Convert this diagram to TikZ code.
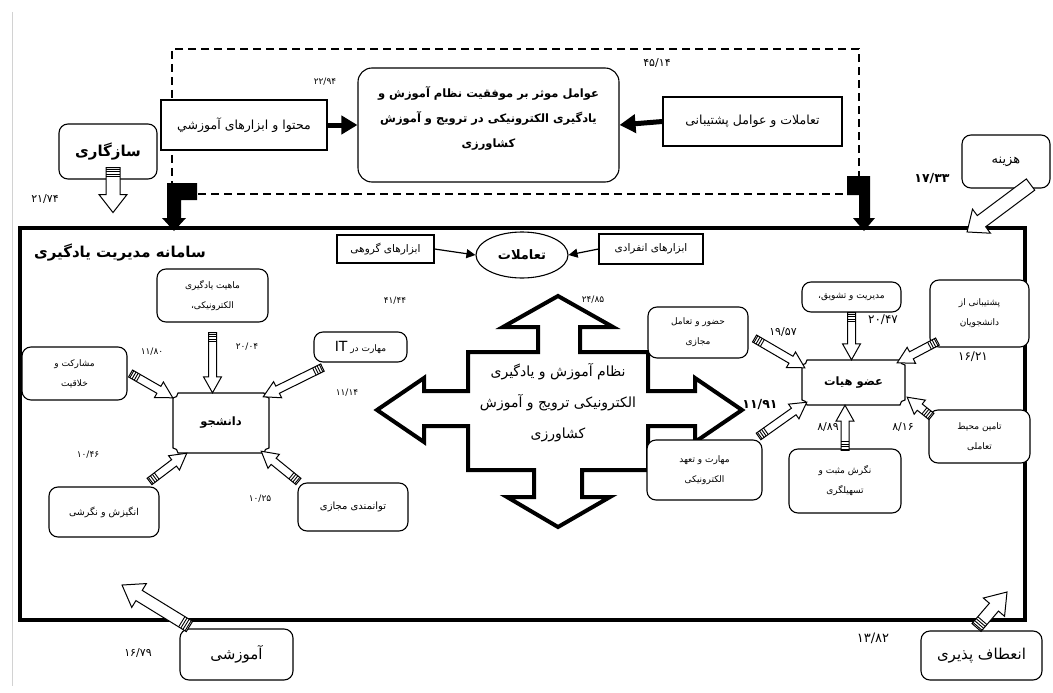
\documentclass[tikz,border=0pt]{standalone}
\usepackage{fontspec}
\usetikzlibrary{arrows.meta,shapes.geometric,calc}
\TeXXeTstate=1
\newfontfamily\fa[Script=Arabic]{DejaVu Sans}
\newcommand\R[1]{\beginR #1\endR}
\newcommand\fsz[2]{\fontsize{#1}{#2}\selectfont}
% hollow block arrow: #1 from, #2 to, #3 half shaft, #4 half head, #5 head length, #6 stripes (0/1)
\newcommand\hollowarrow[6]{%
  \path let \p1=#1, \p2=#2, \n1={atan2(\y2-\y1,\x2-\x1)}, \n2={veclen(\x2-\x1,\y2-\y1)} in
    \pgfextra{\pgfmathsetmacro\tmpA{\n1}\global\let\HAang\tmpA
              \pgfmathsetmacro\tmpB{\n2}\global\let\HAlen\tmpB
              \xdef\HAx{\x1}\xdef\HAy{\y1}};
  \begin{scope}[shift={(\HAx,\HAy)},rotate=\HAang,x=1pt,y=1pt]
    \draw[harrow] (0,-#3) -- ({\HAlen-#5},-#3) -- ({\HAlen-#5},-#4) -- (\HAlen,0)
      -- ({\HAlen-#5},#4) -- ({\HAlen-#5},#3) -- (0,#3) -- cycle;
    \ifnum#6>0
      \foreach \hh in {1.5,4,6.5,9}{\draw[line width=0.9pt] (\hh,-#3) -- (\hh,#3);}
    \fi
  \end{scope}}
% box with concave corners around a named node: #1 name, #2 half width, #3 half height
\newcommand\notchbox[3]{%
  \begin{scope}[shift={(#1.center)},x=1pt,y=1pt]
    \draw[line width=1.1pt] ({-#2+5},#3) -- ({#2-5},#3) arc[start angle=180,end angle=270,radius=5]
      -- (#2,{-#3+5}) arc[start angle=90,end angle=180,radius=5]
      -- ({-#2+5},-#3) arc[start angle=0,end angle=90,radius=5]
      -- (-#2,{#3-5}) arc[start angle=270,end angle=360,radius=5] -- cycle;
  \end{scope}}
\begin{document}
\begin{tikzpicture}[x=1pt,y=-1pt,
  box/.style={draw, line width=1.1pt, fill=white, inner sep=0pt, align=center},
  rbox/.style={box, rounded corners=9pt},
  harrow/.style={draw, fill=white, line width=1pt, line join=miter},
  thickarr/.style={line width=5pt, -{Triangle[length=16pt,width=18pt]}},
  thinarr/.style={line width=1.2pt, -{Triangle[length=9pt,width=9pt]}},
  num/.style={font=\fa\fsz{9}{11}, inner sep=0pt},
  numM/.style={font=\fa\fsz{11}{13}, inner sep=0pt},
  numB/.style={font=\fa\bfseries\fsz{12.5}{14}, inner sep=0pt},
  small/.style={font=\fa\fsz{9}{20}},
  plain/.style={inner sep=0pt, align=center}]
\useasboundingbox (0,0) rectangle (1053,693);
% scan margin line
\draw[gray!35, line width=1pt] (12,12) -- (12,686);

% main system frame
\node[draw, line width=3.5pt, minimum width=1005, minimum height=392, inner sep=0pt] (sys) at (522.5,424) {};

% dashed frame
\node[draw, dash pattern=on 8pt off 5pt, line width=1.3pt, minimum width=687, minimum height=145, inner sep=0pt] (dbox) at (515.5,121.5) {};

% L-shaped black arrows from dashed frame to system frame
\fill (167,183) -- (197,183) -- (197,200) -- (181,200) -- (181,218) -- (186,218) -- (174,231)
  -- (162,218) -- (167,218) -- cycle;
\fill (847,176) -- (870,176) -- (870,218) -- (875,218) -- (864,231) -- (853,218) -- (859,218)
  -- (859,195) -- (847,195) -- cycle;

% top row
\node[box, minimum width=166, minimum height=50, font=\fa\fsz{12.5}{15}] (moht) at (244,125)
  {\R{محتوا و ابزارهای آموزشي}};
\node[rbox, rounded corners=14pt, minimum width=261, minimum height=114] (goal) at (488.5,125) {};
\node[plain, font=\fa\bfseries\fsz{11.5}{25}] (goaltxt) at (488.5,118)
  {\R{عوامل موثر بر موفقیت نظام آموزش و}\\\R{یادگیری الکترونیکی در ترویج و آموزش}\\\R{کشاورزی}};
\node[box, minimum width=179, minimum height=49, font=\fa\fsz{12.5}{15}] (taam) at (752.5,121.5)
  {\R{تعاملات و عوامل پشتیبانی}};
\draw[thickarr] (moht.east) -- (goal.west);
\draw[thickarr] (taam.west) -- (goal.east);
\node[num] (n1) at (325,82) {۲۲/۹۴};
\node[numM] (n2) at (657,63) {۴۵/۱۴};

\node[rbox, minimum width=98, minimum height=55, font=\fa\bfseries\fsz{15}{17}] (saz) at (108,151.5) {\R{سازگاری}};
\node[numM] (n3) at (45,199) {۲۱/۷۴};
\hollowarrow{($(saz.south)+(5,-12)$)}{($(saz.south)+(5,33)$)}{7}{14}{18}{1}

\node[rbox, minimum width=88, minimum height=53, font=\fa\fsz{13}{15}] (hazine) at (1006,161.5) {\R{هزینه}};
\hollowarrow{($(hazine.south east)+(-20,-4)$)}{(967,232)}{7}{15}{18}{0}
\node[numB] (n4) at (932,179) {۱۷/۳۳};

% inside system frame
\node[plain, font=\fa\bfseries\fsz{15}{18}] (title) at (120,253) {\R{سامانه مدیریت یادگیری}};
\node[box, minimum width=97, minimum height=28, font=\fa\fsz{10.5}{12}] (grp) at (385.5,249) {\R{ابزارهای گروهی}};
\node[ellipse, draw, line width=1.1pt, fill=white, minimum width=92, minimum height=46, inner sep=0pt,
  font=\fa\bfseries\fsz{13}{15}] (tam) at (522,255) {\R{تعاملات}};
\node[box, minimum width=104, minimum height=30, font=\fa\fsz{10.5}{12}] (ind) at (651,249) {\R{ابزارهای انفرادی}};
\draw[thinarr] (grp.east) -- (tam.west);
\draw[thinarr] (ind.west) -- (tam.east);
\node[num] (n5) at (395,301) {۴۱/۴۴};
\node[num] (n6) at (593,300) {۲۴/۸۵};

% central four-way arrow
\draw[line width=4pt, line join=miter, fill=white]
  (558,296) -- (613,327) -- (580,327) -- (580,352) -- (648,352) -- (648,391) -- (695,391)
  -- (695,378) -- (742,410) -- (695,442) -- (695,426) -- (648,426) -- (648,470) -- (582,470)
  -- (582,497) -- (610,497) -- (558,527) -- (507,497) -- (534,497) -- (534,470) -- (468,470)
  -- (468,426) -- (424,426) -- (424,442) -- (377,410) -- (424,378) -- (424,391) -- (468,391)
  -- (468,352) -- (538,352) -- (538,327) -- (503,327) -- cycle;
\node[plain, font=\fa\fsz{14}{31}] (cen) at (558,403)
  {\R{نظام آموزش و یادگیری}\\\R{الکترونیکی ترویج و آموزش}\\\R{کشاورزی}};
\node[numB] (n7) at (760,405) {۱۱/۹۱};

% student cluster
\node[rbox, minimum width=111, minimum height=53, small] (mah) at (212.5,295.5)
  {\R{ماهیت یادگیری}\\\R{الکترونیکی،}};
\node[plain, minimum width=96, minimum height=60, font=\fa\bfseries\fsz{11.5}{13}] (dan) at (221,423) {\R{دانشجو}};
\notchbox{dan}{48}{30}
\node[rbox, minimum width=105, minimum height=53, small] (mosh) at (74.5,373.5)
  {\R{مشارکت و}\\\R{خلاقیت}};
\node[rbox, minimum width=93, minimum height=30, font=\fa\fsz{9}{12}] (it) at (360.5,347)
  {\R{مهارت در \beginL{\fsz{14}{14}IT}\endL}};
\node[rbox, minimum width=110, minimum height=50, font=\fa\fsz{9.5}{12}] (ang) at (104,512) {\R{انگیزش و نگرشی}};
\node[rbox, minimum width=110, minimum height=48, font=\fa\fsz{10}{12}] (tav) at (353,507) {\R{توانمندی مجازی}};
\node[rbox, minimum width=113, minimum height=51, font=\fa\fsz{15}{17}] (amoz) at (236.5,654.5) {\R{آموزشی}};

\hollowarrow{($(mah.south)+(0,10)$)}{(mah.south |- dan.north)}{4}{9}{16}{1}
\hollowarrow{($(mosh.east)+(3,0)$)}{($(dan.north west)+(0,5)$)}{4}{9}{16}{1}
\hollowarrow{($(it.south west)+(9,5)$)}{($(dan.north east)+(-6,4)$)}{4}{9}{16}{1}
\hollowarrow{($(ang.north east)+(-10,-5)$)}{($(dan.south west)+(14,0)$)}{4}{9}{16}{1}
\hollowarrow{($(tav.north west)+(1,-1)$)}{($(dan.south east)+(-8,-2)$)}{4}{9}{16}{1}
\hollowarrow{($(amoz.north west)+(10,-2)$)}{(122,585)}{6}{14}{20}{1}

\node[num] (n8) at (247,347) {۲۰/۰۴};
\node[num] (n9) at (152,352) {۱۱/۸۰};
\node[num] (n10) at (347,393) {۱۱/۱۴};
\node[num] (n11) at (88,455) {۱۰/۴۶};
\node[num] (n12) at (260,499) {۱۰/۲۵};
\node[numM] (n13) at (138,653) {۱۶/۷۹};

% faculty cluster
\node[rbox, minimum width=100, minimum height=51, small] (hoz) at (698,332.5)
  {\R{حضور و تعامل}\\\R{مجازی}};
\node[rbox, minimum width=99, minimum height=30, font=\fa\fsz{9}{12}] (mod) at (851.5,297) {\R{مدیریت و تشویق،}};
\node[rbox, minimum width=99, minimum height=67, small] (posh) at (979.5,313.5)
  {\R{پشتیبانی از}\\\R{دانشجویان}};
\node[plain, minimum width=103, minimum height=45, font=\fa\bfseries\fsz{11.5}{13}] (ozv) at (853.5,382.5) {\R{عضو هیات}};
\notchbox{ozv}{51.5}{22.5}
\node[rbox, minimum width=115, minimum height=60, small] (mah2) at (704.5,470)
  {\R{مهارت و تعهد}\\\R{الکترونیکی}};
\node[rbox, minimum width=112, minimum height=64, small] (neg) at (845,481)
  {\R{نگرش مثبت و}\\\R{تسهیلگری}};
\node[rbox, minimum width=101, minimum height=53, small] (tam2) at (979.5,436.5)
  {\R{تامین محیط}\\\R{تعاملی}};
\node[rbox, minimum width=121, minimum height=49, font=\fa\fsz{15}{17}] (enet) at (981.5,655.5) {\R{انعطاف پذیری}};

\hollowarrow{($(hoz.east)+(6,6)$)}{($(ozv.north west)+(3,8)$)}{4}{9}{16}{1}
\hollowarrow{(mod.south)}{(mod.south |- ozv.north)}{4}{9}{16}{1}
\hollowarrow{($(posh.south west)+(8,-6)$)}{($(ozv.north east)+(-8,3)$)}{4}{9}{16}{1}
\hollowarrow{($(mah2.north east)+(-4,-3)$)}{($(ozv.south west)+(5,-3)$)}{4}{9}{16}{1}
\hollowarrow{($(neg.north)+(0,2)$)}{(neg.north |- ozv.south)}{4}{9}{16}{1}
\hollowarrow{($(tam2.north west)+(3,7)$)}{($(ozv.south east)+(2,-8)$)}{4}{9}{16}{1}
\hollowarrow{($(enet.north)+(-5,-3)$)}{(1007,592)}{6}{14}{20}{1}

\node[numM] (n14) at (783,332) {۱۹/۵۷};
\node[font=\fa\fsz{12}{14}, inner sep=0pt] (n15) at (883,320) {۲۰/۴۷};
\node[font=\fa\fsz{12}{14}, inner sep=0pt] (n16) at (973,357) {۱۶/۲۱};
\node[numM] (n17) at (828,427) {۸/۸۹};
\node[numM] (n18) at (903,427) {۸/۱۶};
\node[font=\fa\fsz{13}{15}, inner sep=0pt] (n19) at (873,638) {۱۳/۸۲};
\end{tikzpicture}
\end{document}
